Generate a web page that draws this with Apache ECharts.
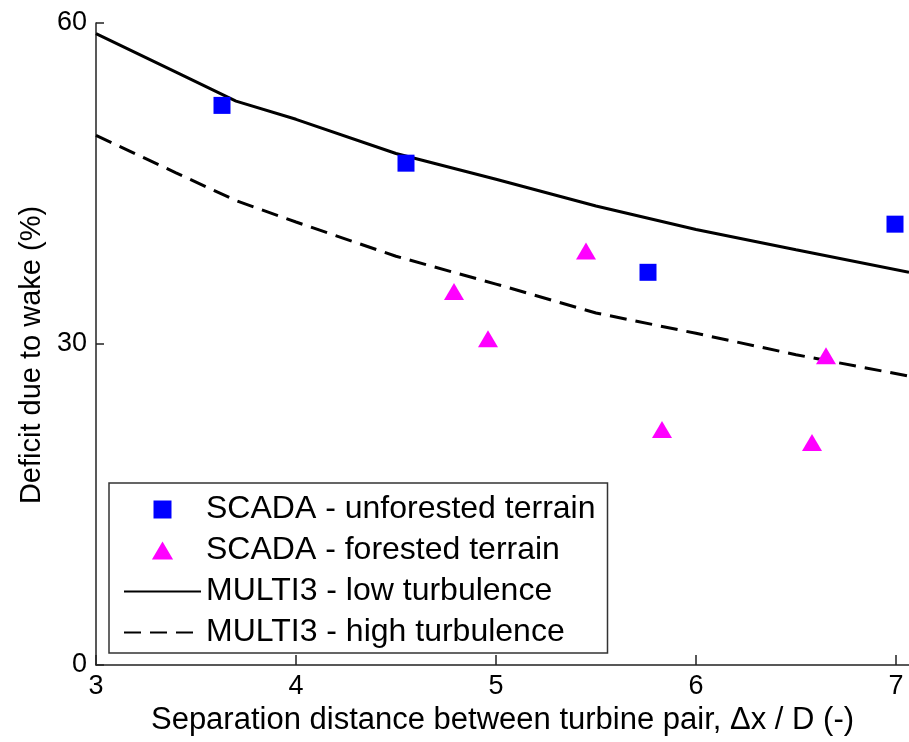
<!DOCTYPE html>
<html>
<head>
<meta charset="utf-8">
<script src="https://cdn.jsdelivr.net/npm/echarts@6/dist/echarts.min.js"></script>
<style>
  html, body { margin: 0; padding: 0; background: #fff; }
  #chart { width: 909px; height: 742px; }
</style>
</head>
<body>
<div id="chart"></div>
<script>
// Measured wake deficits (x = separation Δx/D, y = deficit %)
const unforestedX = [3.63, 4.55, 5.76, 6.995];
const unforestedY = [52.3, 46.9, 36.7, 41.2];

const forestedX = [4.79, 4.96, 5.45, 5.83, 6.58, 6.65];
const forestedY = [34.9, 30.5, 38.7, 22.0, 20.8, 28.9];

// MULTI3 model curves
const modelX = [3.0, 3.4, 3.7, 4.0, 4.5, 5.0, 5.5, 6.0, 6.5, 7.065];
const lowTurbY = [59.0, 55.4, 52.7, 51.0, 47.8, 45.4, 42.9, 40.7, 38.8, 36.7];
const highTurbY = [49.5, 46.0, 43.4, 41.4, 38.2, 35.6, 32.9, 31.0, 29.0, 27.0];

// Axis ticks
const xTicks = [3, 4, 5, 6, 7];
const yTicks = [0, 30, 60];

const seriesNames = [
  'SCADA - unforested terrain',
  'SCADA - forested terrain',
  'MULTI3 - low turbulence',
  'MULTI3 - high turbulence'
];

const zip = (xs, ys) => xs.map((x, i) => [x, ys[i]]);

const FONT = 'Liberation Sans, Arial, sans-serif';
const axisColor = '#222';

// Legend icons: fixed-aspect marker shapes centred in the icon box
const squareIcon = 'path://M0,0L17,0L17,17L0,17Z';
const triangleIcon = 'path://M10,0L20,17L0,17Z';

const chart = echarts.init(document.getElementById('chart'), null, { renderer: 'canvas' });

chart.setOption({
  animation: false,
  backgroundColor: '#fff',
  textStyle: { fontFamily: FONT, color: '#000' },
  grid: { left: 96, top: 23, right: 0, bottom: 77, containLabel: false },
  xAxis: {
    type: 'value',
    min: 3,
    max: 7.065,
    interval: 1,
    name: 'Separation distance between turbine pair, Δx / D (-)',
    nameLocation: 'middle',
    nameGap: 38,
    nameTextStyle: { fontFamily: FONT, fontSize: 31, color: '#000' },
    axisLine: { show: true, lineStyle: { color: axisColor, width: 1.5 } },
    axisTick: {
      show: true, inside: true, length: 10, customValues: xTicks,
      lineStyle: { color: axisColor, width: 1.5 }
    },
    axisLabel: {
      fontFamily: FONT, fontSize: 27, color: '#000', margin: 8,
      customValues: xTicks,
      formatter: v => (xTicks.indexOf(Math.round(v * 1000) / 1000) >= 0 ? String(v) : '')
    },
    splitLine: { show: false }
  },
  yAxis: {
    type: 'value',
    min: 0,
    max: 60,
    interval: 30,
    name: 'Deficit due to wake (%)',
    nameLocation: 'middle',
    nameGap: 50,
    nameTextStyle: { fontFamily: FONT, fontSize: 29, color: '#000', padding: [0, 22, 0, 0] },
    axisLine: { show: true, lineStyle: { color: axisColor, width: 1.5 } },
    axisTick: { show: true, inside: true, length: 8, lineStyle: { color: axisColor, width: 1.5 } },
    axisLabel: {
      fontFamily: FONT, fontSize: 27, color: '#000', margin: 9,
      formatter: v => (yTicks.indexOf(v) >= 0 ? String(v) : '')
    },
    splitLine: { show: false }
  },
  legend: {
    orient: 'vertical',
    left: 109,
    top: 483,
    padding: [6, 12, 0, 14],
    itemWidth: 77,
    itemHeight: 18,
    itemGap: 0,
    symbolKeepAspect: true,
    backgroundColor: '#fff',
    borderColor: '#333',
    borderWidth: 1.5,
    borderRadius: 0,
    textStyle: { fontFamily: FONT, fontSize: 32, color: '#000', lineHeight: 41 },
    data: [
      { name: seriesNames[0], icon: squareIcon },
      { name: seriesNames[1], icon: triangleIcon },
      { name: seriesNames[2], itemStyle: { color: 'rgba(0,0,0,0)', borderWidth: 0 } },
      { name: seriesNames[3], itemStyle: { color: 'rgba(0,0,0,0)', borderWidth: 0 } }
    ]
  },
  series: [
    {
      name: seriesNames[2],
      type: 'line',
      data: zip(modelX, lowTurbY),
      showSymbol: false,
      symbol: 'none',
      lineStyle: { color: '#000', width: 3 },
      itemStyle: { color: '#000' },
      z: 2
    },
    {
      name: seriesNames[3],
      type: 'line',
      data: zip(modelX, highTurbY),
      showSymbol: false,
      symbol: 'none',
      lineStyle: { color: '#000', width: 3, type: [17, 9] },
      itemStyle: { color: '#000' },
      z: 2
    },
    {
      name: seriesNames[0],
      type: 'scatter',
      data: zip(unforestedX, unforestedY),
      symbol: 'rect',
      symbolSize: 17,
      itemStyle: { color: '#0000ff', opacity: 1 },
      z: 3
    },
    {
      name: seriesNames[1],
      type: 'scatter',
      data: zip(forestedX, forestedY),
      symbol: 'triangle',
      symbolSize: [20, 17],
      itemStyle: { color: '#ff00ff', opacity: 1 },
      z: 3
    }
  ]
});
</script>
</body>
</html>
